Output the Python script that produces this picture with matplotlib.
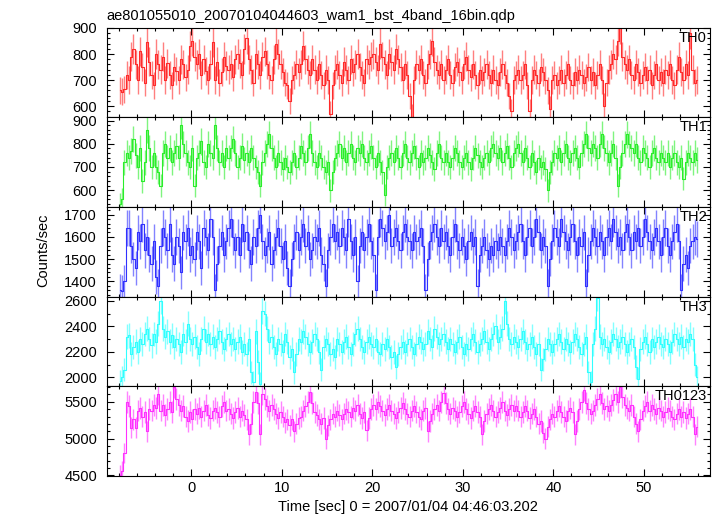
import numpy as np
import matplotlib
matplotlib.use("Agg")
import matplotlib.pyplot as plt
from matplotlib.ticker import MultipleLocator

plt.rcParams["font.family"] = ["Liberation Sans", "DejaVu Sans"]
plt.rcParams["font.size"] = 10.5

# 0.25 s bins, starting at t = -8 s
t_start = -8.0
bin_size = 0.25

th0 = [
    660, 655, 665, 720, 700, 790, 820, 760, 700, 810, 750, 690, 845, 770, 720, 680,
    800, 760, 740, 790, 700, 765, 720, 680, 750, 735, 700, 780, 760, 710, 740, 830,
    850, 790, 760, 800, 720, 780, 735, 700, 760, 845, 700, 770, 690, 730, 790, 755,
    740, 760, 710, 780, 800, 765, 720, 820, 860, 780, 740, 690, 800, 760, 720, 790,
    810, 760, 720, 700, 780, 840, 800, 760, 730, 690, 680, 620, 700, 720, 760, 730,
    760, 830, 780, 740, 720, 780, 740, 700, 760, 720, 680, 740, 700, 570, 680, 740,
    760, 720, 690, 770, 740, 700, 780, 730, 760, 800, 750, 720, 690, 780, 760, 790,
    800, 770, 740, 840, 790, 760, 720, 800, 770, 740, 820, 780, 750, 700, 760, 720,
    640, 560, 700, 760, 740, 780, 720, 690, 760, 800, 850, 770, 740, 720, 760, 700,
    740, 780, 720, 690, 750, 770, 730, 700, 760, 790, 740, 710, 760, 720, 680, 740,
    700, 730, 760, 720, 690, 740, 700, 680, 730, 760, 720, 690, 640, 580, 700, 720,
    740, 700, 720, 760, 680, 580, 700, 740, 720, 690, 750, 730, 700, 660, 590, 700,
    720, 680, 700, 740, 690, 720, 760, 700, 680, 730, 700, 740, 720, 690, 710, 750,
    700, 730, 680, 720, 760, 700, 600, 690, 740, 760, 800, 780, 850, 900, 790, 760,
    740, 780, 720, 700, 760, 730, 690, 720, 750, 700, 740, 680, 720, 760, 700, 730,
    690, 740, 720, 760, 700, 680, 740, 790, 730, 700, 760, 720, 880, 740, 690, 700,
]

th1 = [
    540, 560, 720, 760, 740, 770, 820, 750, 700, 780, 640, 720, 860, 780, 700, 760,
    700, 680, 620, 760, 800, 740, 780, 720, 760, 790, 740, 880, 800, 760, 720, 700,
    780, 620, 740, 760, 810, 720, 700, 800, 760, 740, 880, 780, 720, 760, 700, 780,
    740, 780, 820, 760, 700, 740, 790, 730, 760, 720, 780, 740, 700, 680, 620, 720,
    760, 800, 840, 780, 740, 700, 760, 720, 690, 740, 700, 680, 720, 760, 700, 740,
    790, 760, 720, 780, 840, 760, 720, 700, 760, 740, 700, 680, 720, 600, 680, 740,
    760, 800, 740, 780, 720, 760, 800, 740, 720, 780, 760, 800, 740, 720, 760, 790,
    740, 700, 760, 720, 680, 580, 700, 740, 760, 720, 780, 740, 700, 760, 800, 740,
    720, 760, 790, 740, 700, 760, 720, 740, 780, 750, 720, 690, 760, 800, 740, 720,
    760, 720, 700, 740, 780, 760, 720, 700, 740, 760, 720, 690, 740, 780, 750, 720,
    700, 740, 760, 720, 780, 800, 760, 740, 780, 720, 760, 790, 740, 700, 760, 780,
    800, 760, 720, 780, 740, 700, 760, 720, 680, 740, 700, 720, 690, 600, 680, 720,
    760, 740, 780, 720, 760, 800, 740, 720, 760, 780, 740, 700, 760, 800, 840, 780,
    760, 800, 780, 740, 800, 840, 780, 760, 720, 760, 800, 740, 620, 700, 760, 800,
    840, 800, 780, 760, 800, 740, 720, 780, 760, 740, 700, 760, 780, 740, 720, 760,
    740, 720, 760, 700, 740, 760, 720, 700, 740, 650, 720, 760, 740, 720, 760, 730,
]

th2 = [
    1360, 1355, 1400, 1640, 1640, 1560, 1500, 1460, 1620, 1580, 1660, 1540, 1600, 1520, 1480, 1580,
    1420, 1380, 1560, 1640, 1600, 1540, 1660, 1520, 1480, 1600, 1560, 1440, 1620, 1580, 1640, 1520,
    1560, 1500, 1620, 1580, 1460, 1640, 1600, 1540, 1680, 1600, 1360, 1480, 1560, 1620, 1520, 1580,
    1640, 1680, 1600, 1540, 1600, 1520, 1660, 1580, 1620, 1540, 1480, 1600, 1560, 1640, 1700, 1580,
    1520, 1560, 1620, 1480, 1540, 1600, 1640, 1560, 1500, 1580, 1460, 1380, 1500, 1580, 1620, 1540,
    1600, 1660, 1560, 1620, 1500, 1540, 1600, 1580, 1640, 1520, 1480, 1380, 1540, 1600, 1660, 1580,
    1620, 1560, 1640, 1600, 1540, 1680, 1580, 1520, 1600, 1400, 1560, 1620, 1540, 1600, 1660, 1580,
    1520, 1360, 1600, 1680, 1640, 1580, 1620, 1700, 1560, 1600, 1640, 1580, 1540, 1620, 1660, 1600,
    1580, 1540, 1620, 1580, 1600, 1640, 1560, 1360, 1500, 1580, 1620, 1660, 1600, 1560, 1640, 1580,
    1620, 1560, 1520, 1600, 1660, 1580, 1540, 1600, 1560, 1500, 1580, 1620, 1560, 1600, 1380, 1520,
    1560, 1600, 1540, 1500, 1560, 1520, 1580, 1540, 1600, 1560, 1520, 1580, 1640, 1600, 1540, 1580,
    1620, 1660, 1580, 1520, 1600, 1640, 1560, 1600, 1680, 1620, 1540, 1600, 1560, 1380, 1500, 1580,
    1640, 1600, 1560, 1680, 1620, 1580, 1540, 1600, 1660, 1580, 1520, 1600, 1560, 1620, 1380, 1520,
    1580, 1640, 1600, 1560, 1620, 1580, 1520, 1600, 1640, 1580, 1680, 1620, 1560, 1600, 1540, 1620,
    1660, 1600, 1540, 1620, 1580, 1640, 1560, 1600, 1680, 1620, 1580, 1540, 1600, 1640, 1580, 1520,
    1600, 1640, 1560, 1520, 1580, 1620, 1660, 1580, 1360, 1480, 1520, 1460, 1560, 1580, 1600, 1590,
]

th3 = [
    1970, 2000, 2060, 2320, 2330, 2180, 2240, 2280, 2200, 2300, 2260, 2340, 2380, 2300, 2250, 2340,
    2280, 2420, 2600, 2380, 2320, 2360, 2280, 2330, 2240, 2300, 2260, 2200, 2340, 2280, 2420, 2300,
    2260, 2320, 2240, 2180, 2300, 2380, 2280, 2340, 2260, 2320, 2240, 2300, 2360, 2280, 2220, 2300,
    2340, 2260, 2300, 2220, 2280, 2320, 2200, 2260, 2180, 2300, 2040, 1960, 2360, 2120, 1950, 2520,
    2500, 2380, 2280, 2320, 2240, 2180, 2300, 2260, 2200, 2340, 2280, 2160, 2220, 2040, 2180, 2300,
    2280, 2360, 2320, 2260, 2200, 2280, 2340, 2300, 2200, 2060, 2240, 2300, 2260, 2180, 2220, 2160,
    2300, 2260, 2200, 2280, 2320, 2240, 2180, 2260, 2340, 2380, 2300, 2240, 2200, 2280, 2320, 2260,
    2240, 2300, 2200, 2180, 2260, 2220, 2300, 2240, 2160, 2200, 2080, 2180, 2240, 2280, 2200, 2260,
    2300, 2240, 2180, 2260, 2320, 2280, 2220, 2260, 2360, 2300, 2240, 2380, 2320, 2260, 2300, 2340,
    2280, 2220, 2300, 2260, 2200, 2280, 2320, 2240, 2180, 2260, 2220, 2300, 2340, 2280, 2200, 2260,
    2300, 2360, 2280, 2220, 2300, 2340, 2400, 2280, 2320, 2380, 2600, 2420, 2300, 2260, 2320, 2280,
    2240, 2300, 2360, 2280, 2220, 2260, 2320, 2240, 2180, 2260, 2060, 2140, 2220, 2300, 2260, 2200,
    2260, 2300, 2340, 2280, 2220, 2300, 2260, 2200, 2280, 2340, 2300, 2240, 2180, 2260, 2320, 2040,
    1960, 2260, 2380, 2620, 2320, 2260, 2300, 2240, 2200, 2280, 2340, 2300, 2240, 2280, 2320, 2260,
    2200, 2260, 2300, 2240, 2080, 1990, 2220, 2280, 2320, 2260, 2200, 2300, 2240, 2280, 2320, 2260,
    2240, 2300, 2260, 2200, 2280, 2340, 2300, 2260, 2320, 2240, 2300, 2280, 2340, 2300, 2100, 2000,
]

th0123 = [
    4510, 4560, 4800, 5500, 5440, 5150, 5260, 5150, 5380, 5420, 5300, 5360, 5100, 5400, 5380, 5460,
    5420, 5600, 5380, 5460, 5320, 5400, 5500, 5360, 5700, 5540, 5460, 5380, 5440, 5300, 5240, 5360,
    5260, 5400, 5340, 5420, 5300, 5380, 5460, 5320, 5280, 5380, 5420, 5360, 5300, 5440, 5500, 5380,
    5400, 5340, 5280, 5360, 5420, 5300, 5380, 5320, 5260, 5060, 5200, 5500, 5640, 5480, 5060, 5600,
    5540, 5440, 5380, 5460, 5400, 5340, 5280, 5360, 5300, 5220, 5260, 5180, 5260, 5100, 5200, 5280,
    5300, 5380, 5440, 5500, 5640, 5480, 5360, 5320, 5260, 5200, 5280, 5000, 5180, 5260, 5340, 5300,
    5380, 5320, 5260, 5340, 5400, 5360, 5300, 5420, 5380, 5460, 5340, 5280, 5360, 5110, 5280, 5400,
    5460, 5400, 5500, 5440, 5380, 5320, 5400, 5460, 5380, 5340, 5280, 5360, 5420, 5480, 5400, 5340,
    5300, 5380, 5440, 5360, 5300, 5260, 5380, 5420, 5100, 5240, 5340, 5400, 5460, 5380, 5500, 5620,
    5480, 5400, 5340, 5420, 5380, 5300, 5360, 5440, 5500, 5400, 5340, 5280, 5380, 5440, 5360, 5300,
    5060, 5240, 5340, 5400, 5460, 5380, 5300, 5360, 5420, 5500, 5380, 5320, 5400, 5460, 5380, 5440,
    5380, 5300, 5360, 5440, 5380, 5280, 5340, 5400, 5300, 5200, 5240, 5080, 5000, 5160, 5260, 5340,
    5300, 5380, 5440, 5360, 5300, 5240, 5380, 5420, 5360, 5060, 5240, 5400, 5500, 5660, 5480, 5400,
    5340, 5380, 5460, 5540, 5600, 5480, 5400, 5440, 5380, 5460, 5520, 5600, 5500, 5700, 5560, 5460,
    5420, 5380, 5460, 5300, 5200, 5100, 5260, 5380, 5440, 5500, 5380, 5460, 5400, 5340, 5420, 5380,
    5300, 5360, 5420, 5380, 5300, 5260, 5340, 5400, 5300, 5360, 5280, 5340, 5400, 5300, 5060, 5160,
]

band_names = ["TH0", "TH1", "TH2", "TH3", "TH0123"]
colors = ["#ff2a2a", "#2aee2a", "#3030ff", "#30ffff", "#ff30ff"]
ylims = [(557, 901), (528, 914), (1332, 1735), (1931, 2634), (4495, 5714)]
major_steps = [100, 100, 100, 200, 500]
minor_steps = [20, 20, 20, 100, 100]

fig = plt.figure(figsize=(7.17, 5.16), dpi=100)

left, width = 0.1488, 0.8414
bottom, top = 0.0781, 0.9463
h = (top - bottom) / 5

for i, (rate, name) in enumerate(zip([th0, th1, th2, th3, th0123], band_names)):
    rate = np.array(rate, dtype=float)
    t = t_start + bin_size * (np.arange(len(rate)) + 0.5)
    err = np.sqrt(rate * bin_size) / bin_size

    ax = fig.add_axes([left, top - (i + 1) * h, width, h])
    ax.errorbar(t, rate, yerr=err, fmt="none", ecolor=colors[i],
                elinewidth=1.0, alpha=0.6)
    ax.step(t, rate, where="mid", color=colors[i], lw=0.8)

    ax.set_xlim(-9.33, 57.3)
    ax.set_ylim(*ylims[i])
    ax.xaxis.set_major_locator(MultipleLocator(10))
    ax.xaxis.set_minor_locator(MultipleLocator(2))
    ax.yaxis.set_major_locator(MultipleLocator(major_steps[i]))
    ax.yaxis.set_minor_locator(MultipleLocator(minor_steps[i]))
    ax.tick_params(which="both", direction="in", top=True, right=True, width=0.8)
    ax.tick_params(which="major", length=5)
    ax.tick_params(which="minor", length=2.5)
    ax.tick_params(axis="y", pad=7)
    ax.tick_params(axis="x", pad=3.5)
    for s in ax.spines.values():
        s.set_linewidth(0.8)
    if i < 4:
        ax.tick_params(axis="x", labelbottom=False)

    ax.text(0.995, 0.965, name, transform=ax.transAxes, ha="right", va="top")

fig.text(left, 0.961, "ae801055010_20070104044603_wam1_bst_4band_16bin.qdp",
         ha="left", va="baseline")
fig.text(0.06, 0.515, "Counts/sec", rotation=90, ha="center", va="center")
fig.text(left + width / 2, 0.017, "Time [sec] 0 = 2007/01/04 04:46:03.202",
         ha="center", va="center")

fig.savefig("out.png", dpi=100)
